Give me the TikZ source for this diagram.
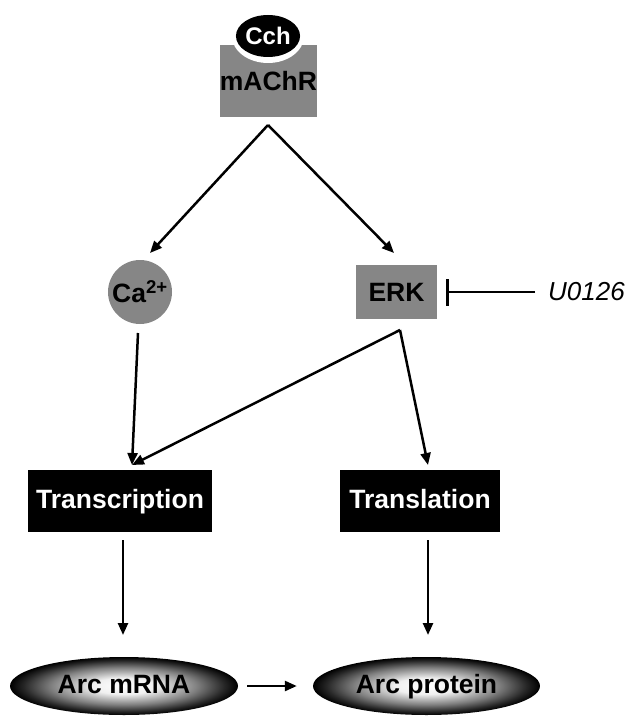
\documentclass[tikz,border=0pt]{standalone}
\usepackage{fontspec}
\setmainfont{Liberation Sans}
\usetikzlibrary{arrows.meta,shapes.geometric}
\pgfdeclareradialshading{arcshade}{\pgfpoint{0bp}{0bp}}{color(0bp)=(white); color(7bp)=(white!94!black); color(16bp)=(black!50); color(22bp)=(black!85); color(25bp)=(black); color(50bp)=(black)}
\definecolor{boxgray}{RGB}{134,134,134}
\begin{document}
\begin{tikzpicture}[x=1pt,y=-1pt,
  lbl/.style={font=\fontsize{26.5}{30}\selectfont\bfseries},
  graybox/.style={rectangle, fill=boxgray, inner sep=0pt, lbl},
  blackbox/.style={rectangle, fill=black, text=white, inner sep=0pt, lbl, text height=19pt, text depth=5pt},
  arcell/.style={ellipse, shade, shading=arcshade, inner sep=0pt, lbl, text height=19pt, text depth=5pt, minimum width=228pt, minimum height=58pt},
  con/.style={line width=2.5pt, -{Triangle[length=12pt,width=10pt]}},
  inhib/.style={line width=2.5pt, -{Bar[width=27pt,line width=3pt]}}]
\useasboundingbox (0,0) rectangle (629,717);

% receptor
\node[graybox, minimum width=93pt, minimum height=72pt] (machr) at (268.5,81) {\raisebox{-1pt}{mAChR}};
\fill[white] (268,36) ellipse [x radius=36, y radius=27];
\node[ellipse, fill=black, text=white, inner sep=0pt, minimum width=55pt, minimum height=42pt,
      font=\fontsize{24}{28}\selectfont\bfseries] (cch) at (268,36) {Cch};

% second level
\node[circle, fill=boxgray, inner sep=0pt, minimum size=64pt, lbl] (ca) at (140,292) {Ca\textsuperscript{2+}};
\node[graybox, minimum width=81pt, minimum height=54pt] (erk) at (396.5,292) {ERK};
\node[anchor=west, inner sep=0pt, font=\fontsize{26}{30}\selectfont\itshape] (u0126) at (548,292) {U0126};

% third level
\node[blackbox, minimum width=184pt, minimum height=62pt] (transc) at (120,501) {Transcription};
\node[blackbox, minimum width=160pt, minimum height=62pt] (transl) at (420,501) {Translation};

% products
\node[arcell] (mrna) at (124,686) {Arc mRNA};
\node[arcell, minimum width=227pt] (prot) at (426.5,686) {Arc protein};

% connector points
\coordinate (apex) at (268,125);
\coordinate (caIn) at (150,253);
\coordinate (erkIn) at (394,253);
\coordinate (erkOut) at (400,330);
\coordinate (caOut) at (138,333);
\coordinate (transcIn) at (132,465);
\coordinate (translIn) at (428,465);
\coordinate (transcOut) at (123,540);
\coordinate (mrnaIn) at (123,635);
\coordinate (translOut) at (428,540);
\coordinate (protIn) at (428,635);

\draw[con] (apex) -- (caIn);
\draw[con] (apex) -- (erkIn);
\draw[con] (caOut) -- (transcIn);
\draw[con] (erkOut) -- (transcIn);
\draw[con] (erkOut) -- (translIn);
\draw[con] (transcOut) -- (mrnaIn);
\draw[con] (translOut) -- (protIn);
\draw[con, shorten <=9pt, shorten >=16pt] (mrna.east) -- (prot.west);
\draw[inhib, shorten <=13pt, shorten >=9pt] (u0126.west) -- (erk.east);
\end{tikzpicture}
\end{document}
